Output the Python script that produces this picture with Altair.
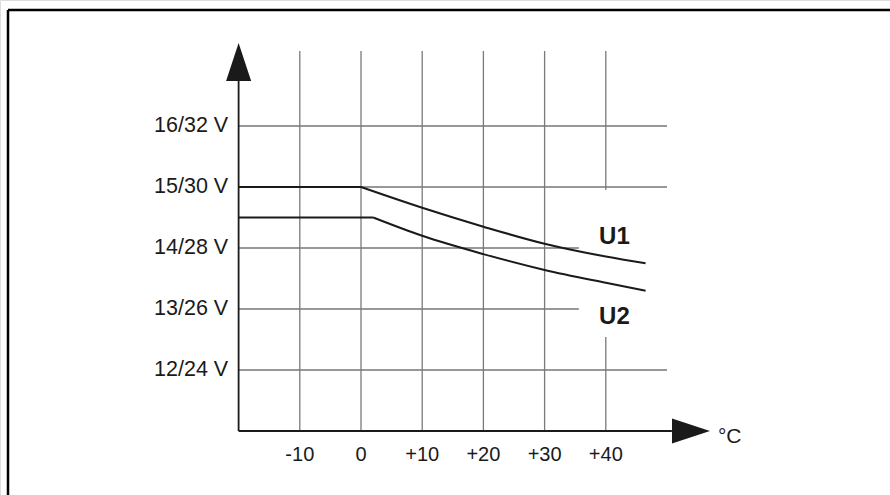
import altair as alt
import pandas as pd

# ---- data ----
# flat part (linear) and falling part (smooth) of each curve
flat_t_u1 = [-20, 0]
flat_v_u1 = [15.0, 15.0]
fall_t_u1 = [0, 10, 20, 30, 40, 46.5]
fall_v_u1 = [15.0, 14.66, 14.35, 14.07, 13.86, 13.75]

flat_t_u2 = [-20, 2]
flat_v_u2 = [14.5, 14.5]
fall_t_u2 = [2, 10, 20, 30, 40, 46.5]
fall_v_u2 = [14.5, 14.2, 13.9, 13.64, 13.43, 13.3]

x_ticks = [-10, 0, 10, 20, 30, 40]
x_tick_labels = ["-10", "0", "+10", "+20", "+30", "+40"]
y_ticks = [12, 13, 14, 15, 16]
y_tick_labels = ["12/24 V", "13/26 V", "14/28 V", "15/30 V", "16/32 V"]

series_labels = ["U1", "U2"]
series_label_x = [38.9, 38.9]
series_label_y = [14.066, 12.754]

# ---- scales (plot area covers the whole page) ----
xs = alt.Scale(domain=[-58.99, 86.44], nice=False, zero=False)
ys = alt.Scale(domain=[9.951, 18.066], nice=False, zero=False)
FONT = "Liberation Sans"

def X(f):
    return alt.X(f, type="quantitative", scale=xs, axis=None)

def Y(f):
    return alt.Y(f, type="quantitative", scale=ys, axis=None)

hgrid = pd.DataFrame({
    "y": y_ticks,
    "x0": [-20] * 5,
    "x1": [50, 35.6, 35.6, 50, 50],
})
vgrid = pd.DataFrame({
    "x": x_ticks + [40],
    "y0": [11, 11, 11, 11, 11, 11, 14.95],
    "y1": [17.23, 17.23, 17.23, 17.23, 17.23, 12.54, 17.23],
})

h_rules = alt.Chart(hgrid).mark_rule(color="#333333", strokeWidth=1.2).encode(
    x=X("x0"), x2="x1", y=Y("y"))
v_rules = alt.Chart(vgrid).mark_rule(color="#7a7a7a", strokeWidth=1.3).encode(
    x=X("x"), y=Y("y0"), y2="y1")

axes_df = pd.DataFrame({"x0": [-20, -20], "x1": [50.8, -20], "y0": [11, 11], "y1": [11, 17.0]})
axis_rules = alt.Chart(axes_df).mark_rule(color="#1a1a1a", strokeWidth=1.8).encode(
    x=X("x0"), x2="x1", y=Y("y0"), y2="y1")

arrow_up = alt.Chart(pd.DataFrame({"x": [-20], "y": [17.049]})).mark_point(
    shape="M0,-1L0.66,1L-0.66,1Z", size=1444, filled=True, color="#1a1a1a", opacity=1
).encode(x=X("x"), y=Y("y"))
arrow_right = alt.Chart(pd.DataFrame({"x": [53.92], "y": [11]})).mark_point(
    shape="M1,0L-1,-0.66L-1,0.66Z", size=1444, filled=True, color="#1a1a1a", opacity=1
).encode(x=X("x"), y=Y("y"))

flat = pd.DataFrame({
    "t": flat_t_u1 + flat_t_u2,
    "v": flat_v_u1 + flat_v_u2,
    "s": ["U1"] * len(flat_t_u1) + ["U2"] * len(flat_t_u2),
})
fall = pd.DataFrame({
    "t": fall_t_u1 + fall_t_u2,
    "v": fall_v_u1 + fall_v_u2,
    "s": ["U1"] * len(fall_t_u1) + ["U2"] * len(fall_t_u2),
})
flat_lines = alt.Chart(flat).mark_line(color="#1a1a1a", strokeWidth=2).encode(
    x=X("t"), y=Y("v"), detail="s:N")
fall_lines = alt.Chart(fall).mark_line(color="#1a1a1a", strokeWidth=2, interpolate="monotone").encode(
    x=X("t"), y=Y("v"), detail="s:N")

xlab = alt.Chart(pd.DataFrame({"x": x_ticks, "t": x_tick_labels, "y": [10.508] * 6})).mark_text(
    font=FONT, fontSize=20, align="center", baseline="alphabetic", color="#1a1a1a"
).encode(x=X("x"), y=Y("y"), text="t:N")

ylab = alt.Chart(pd.DataFrame({"y": y_ticks, "t": y_tick_labels, "x": [-21.7] * 5})).mark_text(
    font=FONT, fontSize=21.5, align="right", baseline="middle", color="#1a1a1a"
).encode(x=X("x"), y=Y("y"), text="t:N")

unit = alt.Chart(pd.DataFrame({"x": [58.33], "y": [10.803], "t": ["°C"]})).mark_text(
    font=FONT, fontSize=21, align="left", baseline="alphabetic", color="#1a1a1a"
).encode(x=X("x"), y=Y("y"), text="t:N")

slab = alt.Chart(pd.DataFrame({"x": series_label_x, "y": series_label_y, "t": series_labels})).mark_text(
    font=FONT, fontSize=24, fontWeight="bold", align="left", baseline="alphabetic", color="#1a1a1a"
).encode(x=X("x"), y=Y("y"), text="t:N")

frame_top = alt.Chart(pd.DataFrame({"a": [0]})).mark_rule(color="black", strokeWidth=2.5).encode(
    x=alt.value(8), x2=alt.value(890), y=alt.value(10))
frame_left = alt.Chart(pd.DataFrame({"a": [0]})).mark_rule(color="black", strokeWidth=2.5).encode(
    x=alt.value(8), y=alt.value(10), y2=alt.value(495))

chart = alt.layer(
    h_rules, v_rules, axis_rules, flat_lines, fall_lines, arrow_up, arrow_right,
    xlab, ylab, unit, slab, frame_top, frame_left
).properties(
    width=890, height=495, padding=0, autosize=alt.AutoSizeParams(type="none")
).configure_view(stroke=None).configure(background="white")

chart.save("out.html", embed_options={"renderer": "svg", "actions": False})
